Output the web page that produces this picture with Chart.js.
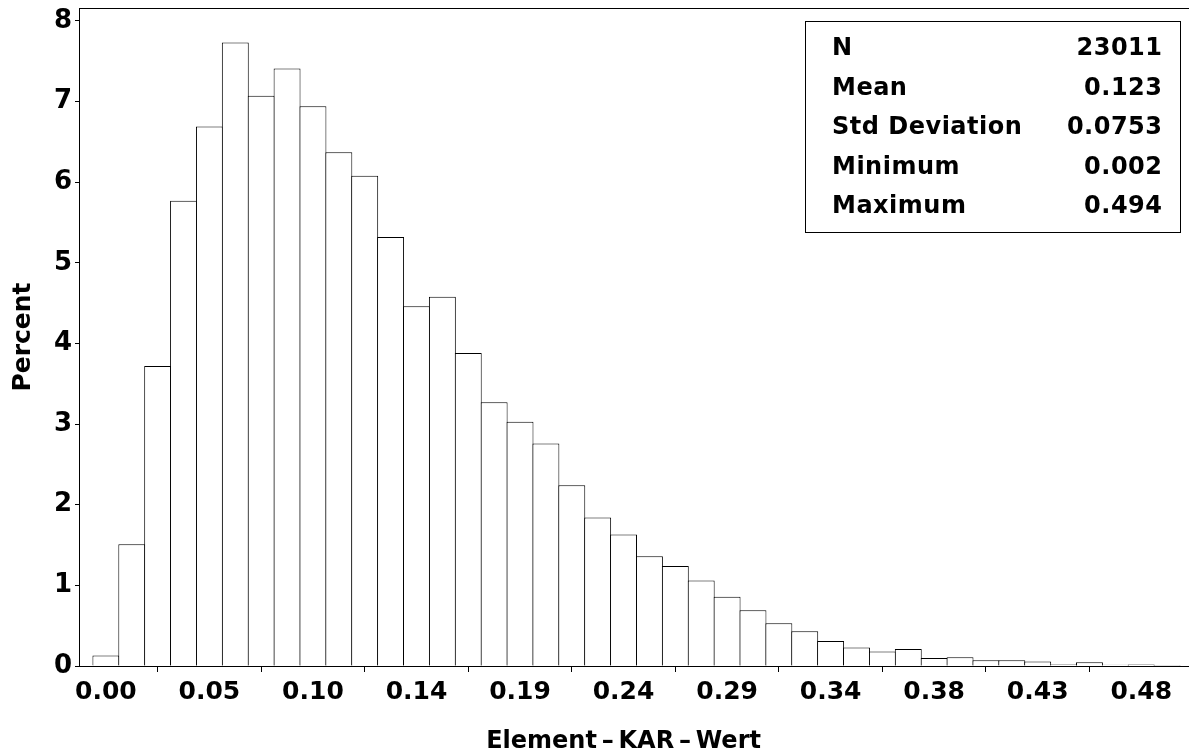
<!DOCTYPE html>
<html><head><meta charset="utf-8">
<script src="https://cdn.jsdelivr.net/npm/chart.js@4"></script>
<style>html,body{margin:0;padding:0;overflow:hidden;background:#fff}</style>
</head><body>
<canvas id="c" width="1200" height="751" style="width:1200px;height:751px;display:block"></canvas>
<script>
const binMidpoints = [0.000,0.012,0.024,0.036,0.048,0.060,0.072,0.084,0.096,0.108,0.120,0.132,0.144,0.156,0.168,0.180,0.192,0.204,0.216,0.228,0.240,0.252,0.264,0.276,0.288,0.300,0.312,0.324,0.336,0.348,0.360,0.372,0.384,0.396,0.408,0.420,0.432,0.444,0.456,0.468,0.480,0.492];
const percentValues = [0.13,1.51,3.72,5.77,6.69,7.73,7.07,7.41,6.94,6.37,6.08,5.32,4.46,4.58,3.88,3.27,3.03,2.76,2.24,1.84,1.63,1.36,1.24,1.06,0.86,0.69,0.53,0.43,0.31,0.23,0.18,0.21,0.10,0.11,0.07,0.07,0.055,0.02,0.045,0.016,0.02,0.012];
const xTickValues = [0,0.048,0.096,0.144,0.192,0.240,0.288,0.336,0.384,0.432,0.480];
const xTickLabels = ['0.00','0.05','0.10','0.14','0.19','0.24','0.29','0.34','0.38','0.43','0.48'];
const yTickValues = [0,1,2,3,4,5,6,7,8];
const statLabels = ['N','Mean','Std Deviation','Minimum','Maximum'];
const statValues = ['23011','0.123','0.0753','0.002','0.494'];
const xAxisTitle = 'Element\u2009–\u2009KAR\u2009–\u2009Wert';
const yAxisTitle = 'Percent';

const frameAndStats = {
  id: 'frameAndStats',
  afterDraw(chart) {
    const {ctx, chartArea: a, scales: {x}} = chart;
    ctx.save();
    ctx.strokeStyle = '#000'; ctx.lineWidth = 1;
    ctx.strokeRect(Math.round(a.left) - 0.5, Math.round(a.top) + 0.5, a.right - a.left, a.bottom - a.top);
    const bw = 375, bh = 211;
    const bx = Math.round(a.right) - 13 - bw, by = Math.round(a.top) + 13;
    ctx.fillStyle = '#fff'; ctx.fillRect(bx, by, bw, bh);
    ctx.strokeRect(bx + 0.5, by + 0.5, bw, bh);
    ctx.fillStyle = '#000';
    ctx.font = 'bold 24px "DejaVu Sans"';
    ctx.letterSpacing = '0.5px';
    ctx.textBaseline = 'alphabetic';
    statLabels.forEach((l, i) => {
      const yb = by + 34 + i * 39.5;
      ctx.textAlign = 'left'; ctx.fillText(l, bx + 27, yb);
      ctx.textAlign = 'right'; ctx.fillText(statValues[i], bx + bw - 17.5, yb);
    });
    ctx.letterSpacing = '0px';
    ctx.font = 'bold 24px "DejaVu Sans"';
    ctx.textAlign = 'center';
    const mid = (xTickValues[0] + xTickValues[xTickValues.length - 1]) / 2;
    ctx.fillText(xAxisTitle, x.getPixelForValue(mid), 748);
    ctx.restore();
  }
};

new Chart(document.getElementById('c'), {
  type: 'bar',
  data: {
    datasets: [{
      data: binMidpoints.map((v, i) => ({x: v, y: percentValues[i]})),
      backgroundColor: '#fff',
      borderColor: '#000',
      borderWidth: 1,
      barPercentage: 1.04,
      categoryPercentage: 1
    }]
  },
  options: {
    responsive: false,
    animation: false,
    devicePixelRatio: 1,
    layout: {padding: {top: 8, right: 7, left: 0, bottom: 0}},
    plugins: {legend: {display: false}, tooltip: {enabled: false}},
    scales: {
      x: {
        type: 'linear', min: -0.012, max: 0.504, offset: false,
        afterBuildTicks: s => { s.ticks = xTickValues.map(v => ({value: v})); },
        afterFit: s => { s.height = 85; s.paddingLeft = 0; s.paddingRight = 0; },
        ticks: {callback: (v, i) => xTickLabels[i], font: {family: 'DejaVu Sans', weight: 'bold', size: 25}, color: '#000', padding: 5, maxRotation: 0, autoSkip: false},
        grid: {display: true, drawOnChartArea: false, tickLength: 6, color: '#000'},
        border: {display: false}
      },
      y: {
        min: 0, max: 8.159,
        afterBuildTicks: s => { s.ticks = yTickValues.map(v => ({value: v})); },
        afterFit: s => { s.width = 80; s.paddingTop = 0; s.paddingBottom = 0; },
        ticks: {font: {family: 'DejaVu Sans', weight: 'bold', size: 26}, color: '#000', padding: 3},
        grid: {display: true, drawOnChartArea: false, tickLength: 5, color: '#000'},
        border: {display: false},
        title: {display: true, text: yAxisTitle, color: '#000', font: {family: 'DejaVu Sans', weight: 'bold', size: 25, lineHeight: 1.2}, padding: {top: 8, bottom: 0}}
      }
    }
  },
  plugins: [frameAndStats]
});
</script>
</body></html>
